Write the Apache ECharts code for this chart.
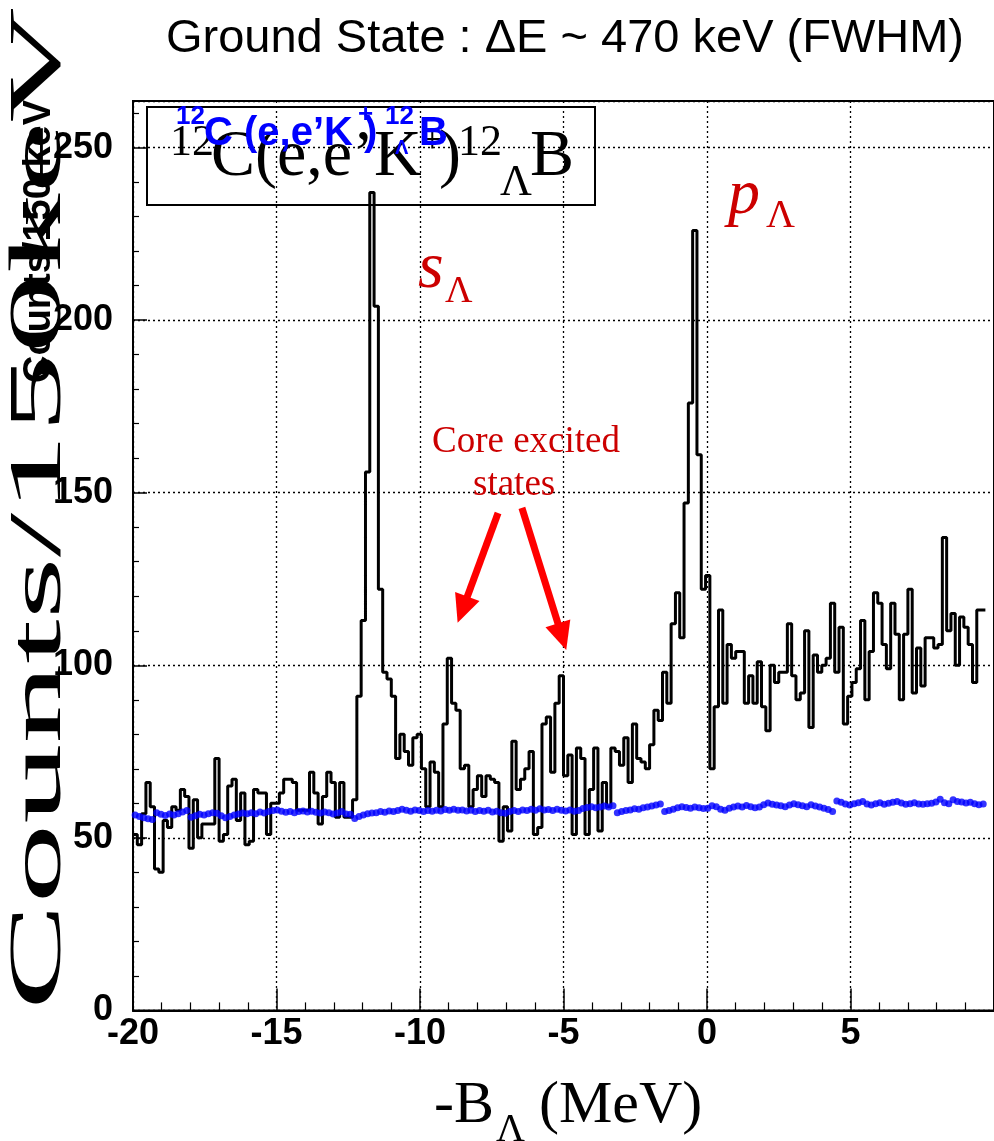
<!DOCTYPE html>
<html><head><meta charset="utf-8">
<script src="https://cdn.jsdelivr.net/npm/echarts@6/dist/echarts.min.js"></script>
<style>html,body{margin:0;padding:0;background:#fff}#c{width:994px;height:1141px}</style>
</head><body><div id="c"></div>
<script>
// Histogram: 150 keV bins starting at -20 MeV
const binStart = -20;
const binWidth = 0.15;
const counts = [
 51,48,57,66,59,41,40,55,53,59, 58,64,62,47,61,50,54,54,54,73,
 49,51,65,67,55,63,48,49,64,63, 63,51,60,60,63,67,67,66,58,58,
 58,69,63,54,62,69,66,56,66,56, 56,61,91,113,156,237,204,122,98,96,
 91,73,80,75,71,79,80,70,59,72, 69,59,83,102,89,87,70,71,59,64,
 68,62,68,67,66,49,59,52,78,64, 67,70,75,51,53,83,85,69,89,97,
 68,74,51,76,73,51,64,76,52,66, 59,76,75,71,79,66,83,73,72,70,
 77,87,84,98,89,112,121,108,147,176, 226,161,122,126,70,88,116,89,106,102,
 104,104,89,97,89,101,88,81,100,95, 98,98,112,97,90,92,110,82,103,98,
 100,102,118,98,111,83,91,95,99,113, 90,104,121,118,106,99,118,109,90,109,
 122,92,105,94,108,108,105,106,137,110, 115,100,114,111,106,95,116,116
];
// Accidental background (blue points), one per bin
const background = [
 56.6,56.2,55.8,55.5,55.3,57.3,56.8,56.5,56.9,56.6, 57.0,57.5,57.9,56.0,56.4,56.8,56.6,57.0,57.3,57.1,
 56.4,55.8,56.2,56.6,56.9,57.2,57.0,57.3,57.0,57.5, 57.2,57.6,57.9,58.1,57.7,57.4,57.6,57.3,57.6,57.8,
 57.5,57.7,57.4,57.2,57.5,57.3,56.9,57.2,57.6,56.9, 56.8,55.6,56.2,56.6,57.0,57.2,57.3,57.6,57.4,57.8,
 57.6,57.9,58.3,58.0,57.7,58.1,57.9,57.6,57.9,57.7, 58.0,57.8,58.2,58.0,58.3,58.0,58.1,57.8,58.0,57.6,
 57.9,57.7,58.0,57.5,57.7,57.3,57.1,57.6,57.9,57.6, 58.1,57.9,58.3,58.0,58.4,58.1,58.2,57.9,58.3,58.0,
 57.8,58.1,57.7,57.9,58.5,58.8,59.0,58.7,58.9,59.2, 58.9,59.3,57.3,57.6,57.9,58.1,58.4,58.3,58.7,58.9,
 59.2,59.5,59.8,57.6,57.9,58.3,58.7,59.0,58.8,58.6, 58.9,58.7,58.5,58.6,59.3,59.0,58.3,58.0,58.6,58.9,
 59.2,58.9,59.4,59.0,58.7,58.9,59.6,60.1,59.7,59.5, 59.3,59.0,59.5,59.9,59.6,59.3,59.0,59.6,59.2,58.9,
 58.6,58.2,57.6,60.7,60.3,59.8,59.5,59.9,60.2,60.5, 59.8,59.5,59.9,60.2,59.7,60.0,60.3,60.5,60.1,59.7,
 59.9,60.2,59.8,59.7,59.9,60.0,60.4,61.2,60.2,59.9, 61.0,60.5,60.4,60.1,60.3,59.9,59.6,59.8
];
const xTickInterval = 5;
const yTickInterval = 50;
// annotation arrows [from, to] in data coordinates
const arrows = [
  [[-7.28, 144.1], [-8.52, 116.1]],
  [[-6.45, 145.6], [-5.05, 108.3]]
];

const histData = counts.map((v, i) => [binStart + i * binWidth, v]);
histData.push([binStart + counts.length * binWidth, counts[counts.length - 1]]);
const bgData = background.map((v, i) => [binStart + (i + 0.5) * binWidth, v]);

const SERIF = "'Liberation Serif','Times New Roman',serif";
const SANS = "'Liberation Sans',Arial,sans-serif";
const NARROW = "'Liberation Sans Narrow','Arial Narrow','Liberation Sans',sans-serif";
const RED = '#cc0000';

function txt(x, y, s, font, color, align) {
  return {
    type: 'text', x: x, y: y, z: 100,
    style: { text: s, font: font, fill: color || '#000', align: align || 'left', verticalAlign: 'middle' }
  };
}

const chart = echarts.init(document.getElementById('c'), null, { renderer: 'canvas' });
chart.setOption({
  animation: false,
  backgroundColor: '#fff',
  grid: { left: 133, top: 101, right: -10, bottom: 130.6, show: true, borderColor: '#000', borderWidth: 2, backgroundColor: 'transparent' },
  xAxis: {
    type: 'value', min: -20, max: 10, interval: xTickInterval,
    axisLine: { show: true, onZero: false, lineStyle: { color: '#000', width: 2 } },
    axisTick: { show: true, inside: true, length: 22, lineStyle: { color: '#000', width: 1.5 } },
    minorTick: { show: true, splitNumber: 5, length: 8, lineStyle: { color: '#000', width: 1.2 } },
    axisLabel: { color: '#000', fontFamily: NARROW, fontWeight: 'bold', fontSize: 36, margin: 6, showMaxLabel: false },
    splitLine: { show: true, lineStyle: { color: '#000', type: [2, 3], width: 1.3 } }
  },
  yAxis: {
    type: 'value', min: 0, max: 263.5, interval: yTickInterval,
    axisLine: { show: true, onZero: false, lineStyle: { color: '#000', width: 2 } },
    axisTick: { show: true, inside: true, length: 14, lineStyle: { color: '#000', width: 1.5 } },
    minorTick: { show: true, splitNumber: 5, length: 6, lineStyle: { color: '#000', width: 1.2 } },
    axisLabel: { color: '#000', fontFamily: NARROW, fontWeight: 'bold', fontSize: 36, margin: 20, showMaxLabel: false },
    splitLine: { show: true, lineStyle: { color: '#000', type: [2, 3], width: 1.3 } }
  },
  series: [
    {
      type: 'line', step: 'end', data: histData, showSymbol: false, symbol: 'none',
      lineStyle: { color: '#000', width: 3 }, z: 3, silent: true,
      markLine: {
        silent: true, symbol: ['none', 'triangle'], symbolSize: [26, 28],
        label: { show: false },
        lineStyle: { color: '#ff0000', width: 7, type: 'solid' },
        itemStyle: { color: '#ff0000' },
        data: arrows.map(a => [{ coord: a[0] }, { coord: a[1] }])
      }
    },
    {
      type: 'scatter', data: bgData, symbol: 'circle', symbolSize: 7,
      itemStyle: { color: '#0000ff' }, z: 4, silent: true
    }
  ],
  graphic: [
    // title
    txt(565, 39, 'Ground State : \u0394E ~ 470 keV (FWHM)', '47px ' + SANS, '#000', 'center'),
    // y axis titles (overlapping)
    { type: 'text', x: 40, y: 1010, rotation: Math.PI / 2, scaleX: 2.13, z: 100,
      style: { text: 'Counts/150keV', font: '75px ' + SERIF, fill: '#000', align: 'left', verticalAlign: 'middle' } },
    { type: 'text', x: 40, y: 100, rotation: Math.PI / 2, z: 100,
      style: { text: 'Counts/150 keV', font: 'bold 38px ' + SANS, fill: '#000', align: 'right', verticalAlign: 'middle' } },
    // x axis title
    txt(434, 1106, '-B', '60px ' + SERIF),
    txt(496, 1130, '\u039B', '40px ' + SERIF),
    txt(539, 1106, '(MeV)', '60px ' + SERIF),
    // reaction box
    { type: 'rect', z: 90, shape: { x: 147, y: 107, width: 448, height: 98 }, style: { fill: 'none', stroke: '#000', lineWidth: 2 } },
    txt(170, 143, '12', '44px ' + SERIF),
    txt(211, 158, 'C(e,e\u2019K', '66px ' + SERIF),
    txt(421, 141, '+', '40px ' + SERIF),
    txt(439, 158, ')', '66px ' + SERIF),
    txt(458, 143, '12', '44px ' + SERIF),
    txt(500, 183, '\u039B', '44px ' + SERIF),
    txt(530, 158, 'B', '66px ' + SERIF),
    txt(176, 117, '12', 'bold 26px ' + SANS, '#0000ff'),
    txt(204, 134, 'C (e,e\u2019K', 'bold 40px ' + SANS, '#0000ff'),
    txt(358, 115, '+', 'bold 26px ' + SANS, '#0000ff'),
    txt(364, 134, ')', 'bold 40px ' + SANS, '#0000ff'),
    txt(385, 117, '12', 'bold 26px ' + SANS, '#0000ff'),
    txt(395, 148, '\u039B', 'bold 20px ' + SANS, '#0000ff'),
    txt(419, 134, 'B', 'bold 40px ' + SANS, '#0000ff'),
    // peak labels
    txt(418, 270, 's', 'italic 66px ' + SERIF, RED),
    txt(445, 292, '\u039B', '38px ' + SERIF, RED),
    txt(728, 196, 'p', 'italic 64px ' + SERIF, RED),
    txt(766, 216, '\u039B', '40px ' + SERIF, RED),
    txt(432, 442, 'Core excited', '37px ' + SERIF, RED),
    txt(473, 485, 'states', '37px ' + SERIF, RED)
  ]
});
</script></body></html>
